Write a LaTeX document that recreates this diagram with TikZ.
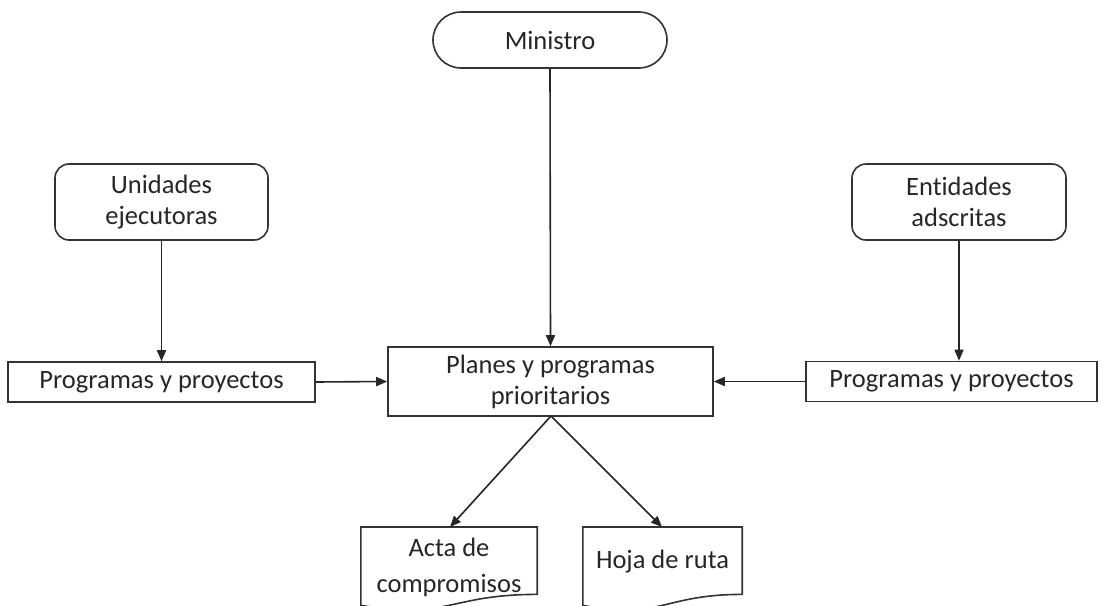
\documentclass[tikz,border=0pt]{standalone}
\usepackage{fontspec}
\setmainfont{Carlito}[Ligatures=NoCommon]
\usetikzlibrary{arrows.meta,calc}
\begin{document}
\begin{tikzpicture}[x=1pt,y=-1pt,
  every node/.style={font=\fontsize{26.5}{31}\selectfont, text=black!85, align=center, inner sep=0pt},
  box/.style={draw=black!80, line width=1.6pt, rectangle},
  rbox/.style={box, rounded corners=14pt},
  stadium/.style={box, rounded corners=28pt},
  doc/.style={rectangle, minimum width=176pt, minimum height=67pt},
  docline/.style={draw=black!80, line width=1.6pt},
  conn/.style={draw=black!85, line width=1.6pt, -{Triangle[length=11pt,width=9pt]}}
]
\useasboundingbox (0,0) rectangle (1102,605);
\clip (0,0) rectangle (1102,605);
\fill[white] (0,0) rectangle (1102,605);

\node[stadium, minimum width=234pt, minimum height=56pt] (min) at (550,40) {Ministro};
\node[rbox, minimum width=213pt, minimum height=76pt] (ue) at (161.5,202) {Unidades\\ejecutoras};
\node[rbox, minimum width=214pt, minimum height=76pt] (ea) at (959,202) {Entidades\\adscritas};
\node[box, minimum width=307pt, minimum height=40pt] (pl) at (161.5,382) {Programas y proyectos};
\node[box, minimum width=291pt, minimum height=40pt] (pr) at (951.5,381.5) {Programas y proyectos};
\node[box, minimum width=325pt, minimum height=69pt] (pp) at (550.5,381.5) {Planes y programas\\prioritarios};

\node[doc, anchor=north] (acta) at (449,527) {};
\node[font=\fontsize{26.5}{36}\selectfont] (actat) at (449,567) {Acta de\\compromisos};
\node[doc, anchor=north, minimum width=159pt] (hoja) at (662.5,527) {};
\node (hojat) at (662.5,562) {Hoja de ruta};

\foreach \d in {acta,hoja}{
  \draw[docline] (\d.south west) -- (\d.north west) -- (\d.north east) -- (\d.south east)
    .. controls (\d.south) and ($(\d.south)+(0,25.5)$) .. ($(\d.south west)+(0,11)$) -- cycle;
}

\draw[conn] (min.south) -- (pp.north);
\draw[conn] (ue.south) -- (pl.north);
\draw[conn] (ea.south) -- (ea.south |- pr.north);
\draw[conn] (pl.east) -- (pp.west);
\draw[conn] (pr.west) -- (pp.east);
\coordinate (ppb) at (551,416);
\draw[conn] (ppb) -- (450,527);
\draw[conn] (ppb) -- (662,527);
\end{tikzpicture}
\end{document}
